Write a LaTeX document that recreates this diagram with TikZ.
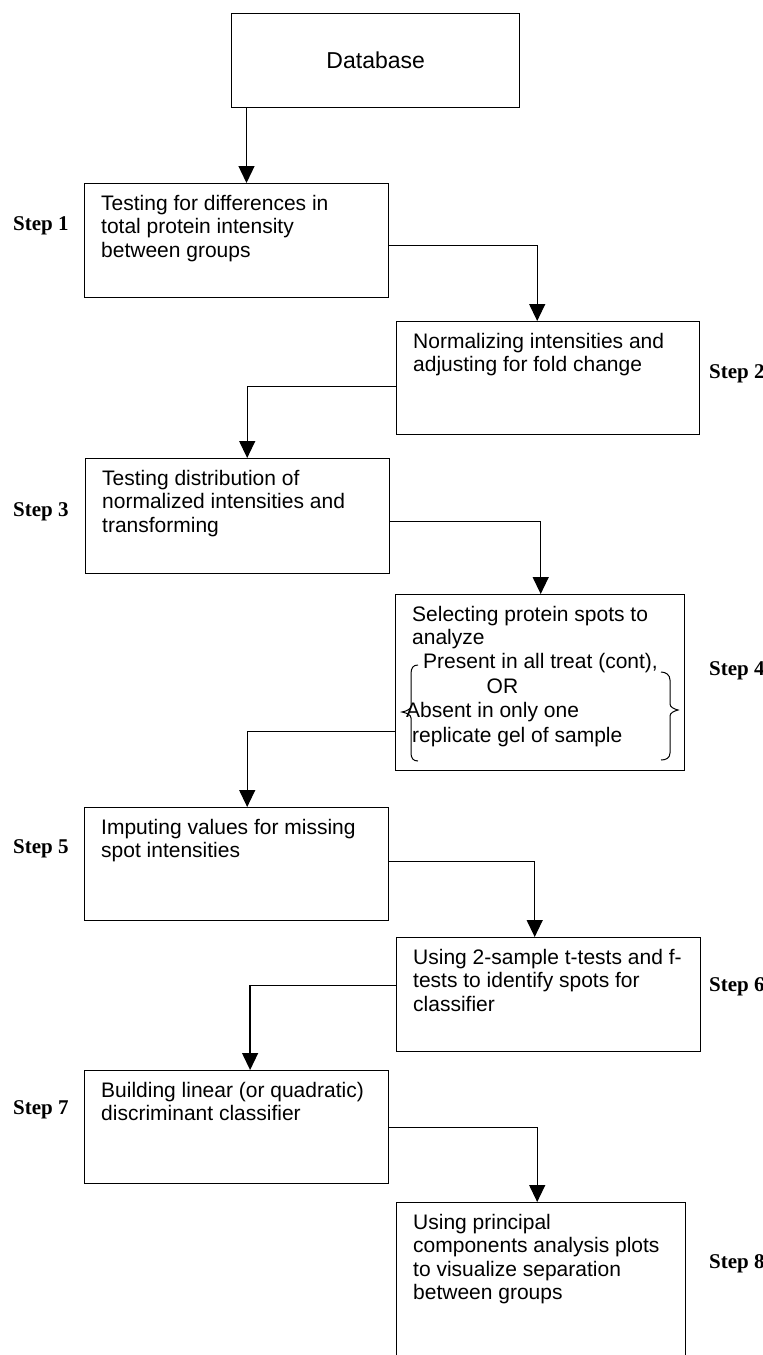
\documentclass[tikz,border=0pt]{standalone}
\usepackage{fontspec}
\setmainfont{Liberation Sans}
\newfontfamily\stepfont{Liberation Serif}
\usetikzlibrary{arrows.meta}
\begin{document}
\begin{tikzpicture}[x=1pt,y=-1pt,
  box/.style={draw, line width=1.4pt, inner sep=0pt, anchor=north west},
  txt/.style={font=\fontsize{21}{23.5}\selectfont, align=left, inner sep=0pt, anchor=north west},
  line/.style={font=\fontsize{21}{23.5}\selectfont, inner sep=0pt, anchor=base west},
  lbl/.style={font=\stepfont\bfseries\fontsize{21}{24}\selectfont, inner sep=0pt, anchor=base west},
  arr/.style={line width=1.3pt, -{Triangle[width=16pt,length=17pt]}},
  brc/.style={line width=1pt}]
\clip (0,0) rectangle (763,1355);
\fill[white] (0,0) rectangle (763,1355);

% boxes
\node[box, minimum width=288pt, minimum height=94pt] (db) at (231,13) {};
\node[font=\fontsize{23}{27}\selectfont, inner sep=0pt] (dbt) at (db.center) {Database};
\node[box, minimum width=304pt, minimum height=114pt] (b1) at (84,183) {};
\node[box, minimum width=303pt, minimum height=113pt] (b2) at (396,321) {};
\node[box, minimum width=304pt, minimum height=115pt] (b3) at (85,458) {};
\node[box, minimum width=289pt, minimum height=176pt] (b4) at (395,594) {};
\node[box, minimum width=304pt, minimum height=113pt] (b5) at (84,807) {};
\node[box, minimum width=304pt, minimum height=114pt] (b6) at (396,937) {};
\node[box, minimum width=304pt, minimum height=113pt] (b7) at (84,1070) {};
\node[box, minimum width=289pt, minimum height=200pt] (b8) at (396,1202) {};

% texts
\node[txt] (t1) at ([shift={(17,12)}]b1.north west) {Testing for differences in\\total protein intensity\\between groups};
\node[txt] (t2) at ([shift={(17,12)}]b2.north west) {Normalizing intensities and\\adjusting for fold change};
\node[txt] (t3) at ([shift={(17,12)}]b3.north west) {Testing distribution of\\normalized intensities and\\transforming};
\node[txt] (t4) at ([shift={(17,12)}]b4.north west) {Selecting protein spots to\\analyze};
\node[line] (t4b) at (423,668) {Present in all treat (cont),};
\node[line] (t4c) at (486.5,693.5) {OR};
\node[line] (t4d) at (406,717.5) {Absent in only one};
\node[line] (t4e) at (412,742) {replicate gel of sample};
\node[txt] (t5) at ([shift={(17,12)}]b5.north west) {Imputing values for missing\\spot intensities};
\node[txt] (t6) at ([shift={(17,12)}]b6.north west) {Using 2-sample t-tests and f-\\tests to identify spots for\\classifier};
\node[txt] (t7) at ([shift={(17,12)}]b7.north west) {Building linear (or quadratic)\\discriminant classifier};
\node[txt] (t8) at ([shift={(17,12)}]b8.north west) {Using principal\\components analysis plots\\to visualize separation\\between groups};

% braces
\draw[brc] (418,665) .. controls (413,665) and (411,668) .. (411,674) -- (411,706)
  .. controls (411,709) and (407,711) .. (402,712)
  .. controls (407,713) and (411,715) .. (411,718) -- (411,753)
  .. controls (411,758) and (413,761) .. (418,761);
\draw[brc] (661,672) .. controls (666,672) and (670,675) .. (670,680) -- (670,704)
  .. controls (670,707) and (674,709) .. (678,710)
  .. controls (674,711) and (670,713) .. (670,716) -- (670,753)
  .. controls (670,758) and (666,760) .. (661,760);

% step labels
\node[lbl] (s1) at (13,230) {Step 1};
\node[lbl] (s2) at (709,378) {Step 2};
\node[lbl] (s3) at (13,516) {Step 3};
\node[lbl] (s4) at (709,675) {Step 4};
\node[lbl] (s5) at (13,853) {Step 5};
\node[lbl] (s6) at (709,991) {Step 6};
\node[lbl] (s7) at (13,1114) {Step 7};
\node[lbl] (s8) at (709,1268) {Step 8};

% connectors
\coordinate (c1) at ([xshift=15.5pt]db.south west);
\draw[arr] (c1) -- (c1 |- b1.north);
\coordinate (c2) at ([yshift=-5pt]b1.east);
\coordinate (e2) at ([xshift=-11pt]b2.north);
\draw[arr] (c2) -| (e2);
\coordinate (c3) at ([yshift=-8pt]b2.west);
\coordinate (e3) at ([xshift=9.5pt]b3.north);
\draw[arr] (c3) -| (e3);
\coordinate (c4) at ([yshift=-5.5pt]b3.east);
\coordinate (e4) at ([xshift=0.5pt]b4.north);
\draw[arr] (c4) -| (e4);
\coordinate (c5) at ([yshift=-48.7pt]b4.west);
\coordinate (e5) at ([xshift=10.5pt]b5.north);
\draw[arr] (c5) -| (e5);
\coordinate (c6) at ([yshift=2.5pt]b5.east);
\coordinate (e6) at ([xshift=-14pt]b6.north);
\draw[arr] (c6) -| (e6);
\coordinate (c7) at ([yshift=9pt]b6.west);
\coordinate (e7) at ([xshift=13.4pt]b7.north);
\draw[arr] (c7) -| (e7);
\coordinate (c8) at (b7.east);
\coordinate (e8) at ([xshift=-4pt]b8.north);
\draw[arr] (c8) -| (e8);
\end{tikzpicture}
\end{document}
